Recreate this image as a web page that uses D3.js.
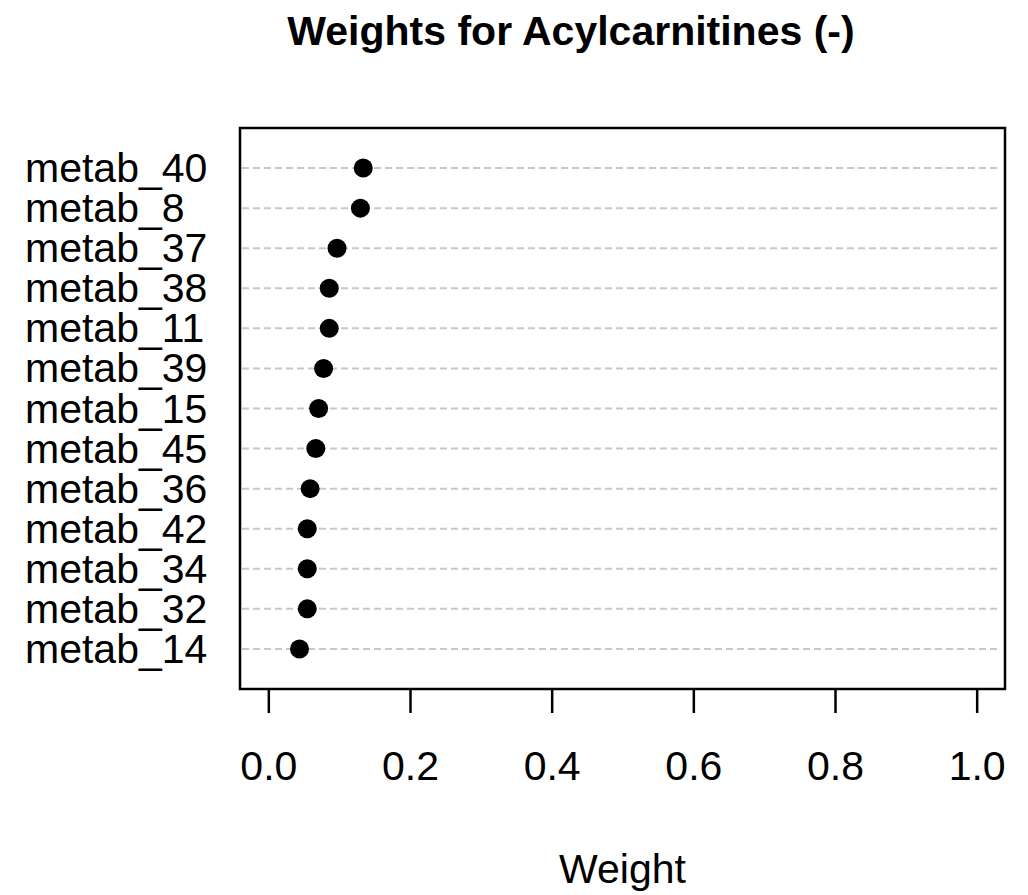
<!DOCTYPE html>
<html>
<head>
<meta charset="utf-8">
<script src="https://cdn.jsdelivr.net/npm/d3@7"></script>
<style>
  body { margin: 0; background: #fff; }
  svg { font-family: "Liberation Sans", Arial, sans-serif; }
</style>
</head>
<body>
<svg id="chart" width="1028" height="895"></svg>
<script>
// Data, listed top to bottom
const metabolites = ["metab_40", "metab_8", "metab_37", "metab_38", "metab_11", "metab_39",
    "metab_15", "metab_45", "metab_36", "metab_42", "metab_34", "metab_32", "metab_14"];
const weights = [0.134, 0.130, 0.097, 0.086, 0.086, 0.078,
    0.071, 0.067, 0.059, 0.055, 0.055, 0.055, 0.044];
const xTicks = [0.0, 0.2, 0.4, 0.6, 0.8, 1.0];

const box = { left: 240, right: 1005, top: 128, bottom: 689 };
const n = metabolites.length;

const svg = d3.select("#chart");

// x scale: R style 4% padding on [0, 1]
const x = d3.scaleLinear()
    .domain([-0.04, 1.04])
    .range([box.left, box.right]);

// y scale: rows at 1..n with ylim 0..n+1, top row first
const y = d3.scaleLinear()
    .domain([0, n + 1])
    .range([box.bottom, box.top]);

const rows = metabolites.map((m, i) => ({ name: m, weight: weights[i], pos: n - i }));

// Title
svg.append("text")
    .attr("x", 571)
    .attr("y", 45)
    .attr("text-anchor", "middle")
    .style("font-size", "41px")
    .style("font-weight", "bold")
    .text("Weights for Acylcarnitines (-)");

// Dotted guide lines
svg.append("g")
    .selectAll("line")
    .data(rows)
    .enter().append("line")
    .attr("x1", box.left + 2)
    .attr("x2", box.right - 4)
    .attr("y1", d => y(d.pos))
    .attr("y2", d => y(d.pos))
    .attr("stroke", "#c8c8c8")
    .attr("stroke-width", 2)
    .attr("stroke-dasharray", "7,4");

// Row labels (left aligned like R's dotchart)
svg.append("g")
    .selectAll("text")
    .data(rows)
    .enter().append("text")
    .attr("x", 25)
    .attr("y", d => y(d.pos) + 14)
    .attr("text-anchor", "start")
    .style("font-size", "41px")
    .attr("fill", "#000")
    .text(d => d.name);

// Points
svg.append("g")
    .selectAll("circle")
    .data(rows)
    .enter().append("circle")
    .attr("cx", d => x(d.weight))
    .attr("cy", d => y(d.pos))
    .attr("r", 9.5)
    .attr("fill", "#000");

// Box
svg.append("rect")
    .attr("x", box.left)
    .attr("y", box.top)
    .attr("width", box.right - box.left)
    .attr("height", box.bottom - box.top)
    .attr("fill", "none")
    .attr("stroke", "#000")
    .attr("stroke-width", 2.5);

// x axis
const xAxis = svg.append("g")
    .attr("transform", `translate(0,${box.bottom})`)
    .call(d3.axisBottom(x)
        .tickValues(xTicks)
        .tickSize(24)
        .tickPadding(38)
        .tickFormat(d3.format(".1f")));
xAxis.select(".domain").remove();
xAxis.selectAll(".tick line").attr("stroke", "#000").attr("stroke-width", 2.5);
xAxis.selectAll(".tick text")
    .attr("fill", "#000")
    .style("font-size", "41px")
    .style("font-family", "\"Liberation Sans\", Arial, sans-serif");

// x axis title
svg.append("text")
    .attr("x", (box.left + box.right) / 2)
    .attr("y", 883)
    .attr("text-anchor", "middle")
    .style("font-size", "41px")
    .text("Weight");
</script>
</body>
</html>
